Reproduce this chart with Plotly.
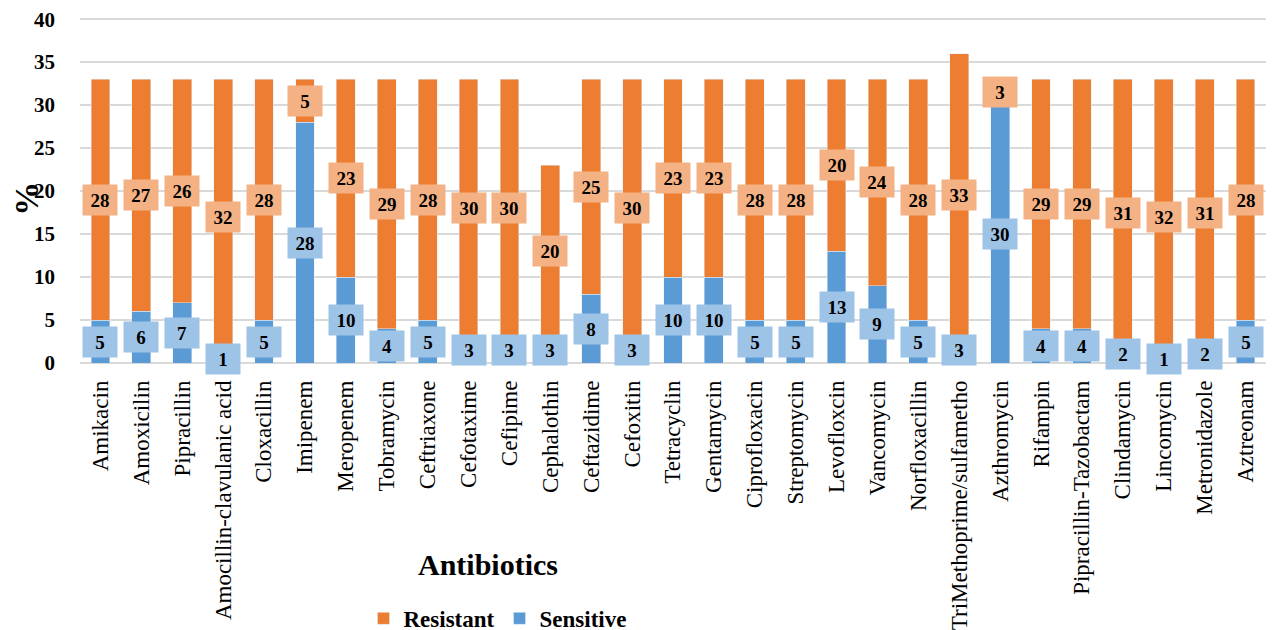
import plotly.graph_objects as go

antibiotics = [
    "Amikacin", "Amoxicilin", "Pipracillin", "Amocillin-clavulanic acid", "Cloxacillin",
    "Imipenem", "Meropenem", "Tobramycin", "Ceftriaxone", "Cefotaxime", "Cefipime",
    "Cephalothin", "Ceftazidime", "Cefoxitin", "Tetracyclin", "Gentamycin", "Ciprofloxacin",
    "Streptomycin", "Levofloxcin", "Vancomycin", "Norfloxacillin", "TriMethoprime/sulfametho",
    "Azthromycin", "Rifampin", "Pipracillin-Tazobactam", "Clindamycin", "Lincomycin",
    "Metronidazole", "Aztreonam",
]
sensitive = [5, 6, 7, 1, 5, 28, 10, 4, 5, 3, 3, 3, 8, 3, 10, 10, 5, 5, 13, 9, 5, 3, 30, 4, 4, 2, 1, 2, 5]
resistant = [28, 27, 26, 32, 28, 5, 23, 29, 28, 30, 30, 20, 25, 30, 23, 23, 28, 28, 20, 24, 28, 33, 3, 29, 29, 31, 32, 31, 28]

FONT = "Liberation Serif"
ORANGE = "#ED7D31"
BLUE = "#5B9BD5"

fig = go.Figure()
fig.add_trace(go.Bar(name="Sensitive", x=antibiotics, y=sensitive,
                     marker_color=BLUE, width=0.46))
fig.add_trace(go.Bar(name="Resistant", x=antibiotics, y=resistant,
                     marker_color=ORANGE, width=0.46))

# boxed data labels centred in each segment
annotations = []
for name, s, r in zip(antibiotics, sensitive, resistant):
    annotations.append(dict(x=name, y=s / 2, text=f"<b>{s}</b>", showarrow=False,
                            bgcolor="#9DC3E6", width=32, height=28,
                            font=dict(family=FONT, size=19, color="black")))
    annotations.append(dict(x=name, y=s + r / 2, text=f"<b>{r}</b>", showarrow=False,
                            bgcolor="#F4B183", width=32, height=28,
                            font=dict(family=FONT, size=19, color="black")))

# axis titles
annotations.append(dict(text="<b>Antibiotics</b>", xref="paper", yref="paper",
                        x=0.344, y=-0.581, xanchor="center", yanchor="middle",
                        showarrow=False, font=dict(family=FONT, size=30, color="black")))
annotations.append(dict(text="<b>%</b>", xref="paper", yref="paper", textangle=-90,
                        x=-0.045, y=0.474, xanchor="center", yanchor="middle",
                        showarrow=False, font=dict(family=FONT, size=34, color="black")))

# page body adds an 8px offset, margins compensate for it
fig.update_layout(
    barmode="stack",
    width=1282, height=630,
    margin=dict(l=72, r=24, t=9, b=275, autoexpand=False),
    paper_bgcolor="white",
    plot_bgcolor="white",
    font=dict(family=FONT, color="black"),
    annotations=annotations,
    showlegend=True,
    legend=dict(orientation="h", x=0.352, xanchor="center", y=-0.676, yanchor="top",
                traceorder="reversed",
                font=dict(family=FONT, size=23, color="black", weight="bold"),
                itemwidth=30),
)
fig.update_xaxes(tickangle=-90, tickfont=dict(family=FONT, size=23, color="black"),
                 showline=False, ticks="", automargin=False, ticklabelstandoff=12)
fig.update_yaxes(range=[0, 40.25], dtick=5, showgrid=True, gridcolor="#D9D9D9", gridwidth=2,
                 zeroline=True, zerolinecolor="#D9D9D9", zerolinewidth=2,
                 tickfont=dict(family=FONT, size=21, color="black", weight="bold"),
                 ticklabelstandoff=24, ticklabeloverflow="allow", automargin=False)

fig.write_html("out.html")
